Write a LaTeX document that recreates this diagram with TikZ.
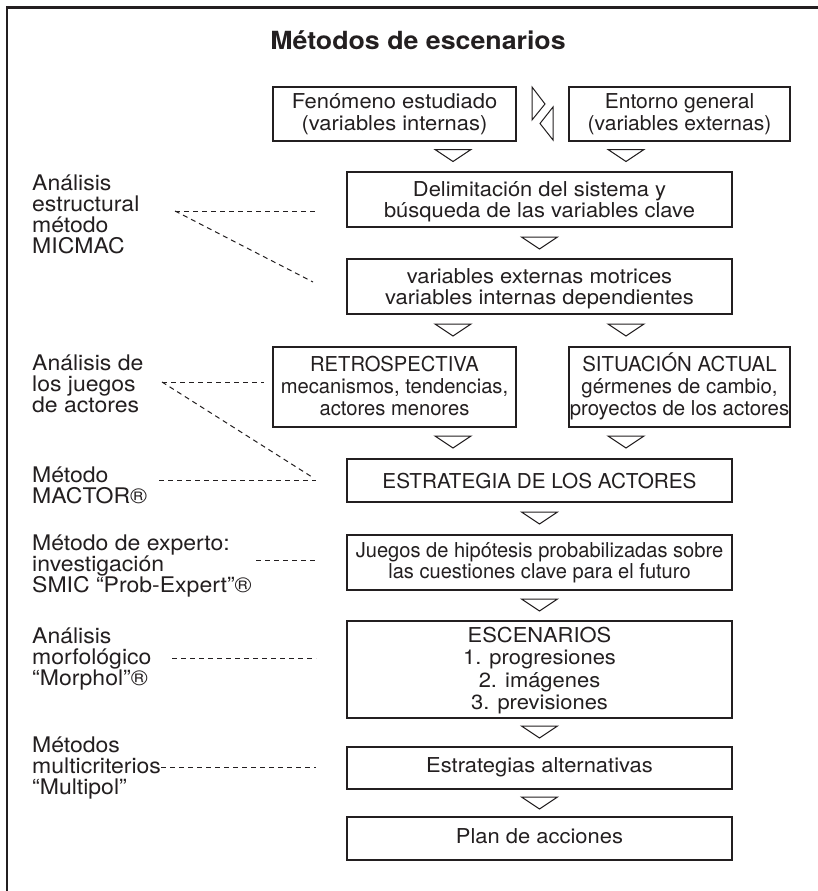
\documentclass[tikz,border=0pt]{standalone}
\usepackage{fontspec}
\usepackage{graphicx}
\setmainfont{TeX Gyre Heros}[FakeStretch=1.07]
\definecolor{ink}{RGB}{35,31,32}
\newcommand\boxfont{\fontsize{20.5}{21.5}\selectfont}
\newcommand\labfont{\fontsize{21.5}{21}\selectfont}
\newcommand\ttlfont{\fontsize{25}{30}\selectfont\bfseries}
\newcommand\cstk[1]{\vtop{\lineskiplimit=-\maxdimen\halign{\hfil##\hfil\cr#1\crcr}}}
\newcommand\lstk[1]{\vtop{\lineskiplimit=-\maxdimen\halign{##\hfil\cr#1\crcr}}}
\newcommand\sq[2]{\scalebox{#1}[1]{#2}}
\newcommand\dtri[2]{\draw[tri] (#1-18,#2) -- (#1+18,#2) -- (#1,#2+12) -- cycle;}
\begin{document}
\begin{tikzpicture}[x=1pt,y=-1pt,
  bx/.style={draw=ink, line width=1.2pt, inner sep=0pt, outer sep=0pt},
  tx/.style={inner sep=0pt, text=ink, font=\boxfont, anchor=base},
  lb/.style={inner sep=0pt, text=ink, font=\labfont, anchor=base west},
  tri/.style={draw=ink, line width=1pt, line join=miter},
  dsh/.style={draw=ink, line width=1pt, dash pattern=on 5pt off 4pt}]
\useasboundingbox (0,0) rectangle (818,891);
\fill[white] (0,0) rectangle (818,891);
\draw[ink, line width=2.7pt] (7,891) -- (7,7.5) -- (818,7.5);

\node[tx, font=\ttlfont] (title) at (418,50) {Métodos de escenarios};

% boxes
\node[bx, minimum width=243pt, minimum height=54pt] (b1) at (394.5,114) {};
\node[bx, minimum width=221pt, minimum height=54pt] (b2) at (679.5,114) {};
\node[bx, minimum width=385pt, minimum height=55pt] (b3) at (539.5,199.5) {};
\node[bx, minimum width=385pt, minimum height=55pt] (b4) at (539.5,286.5) {};
\node[bx, minimum width=243pt, minimum height=80pt] (b5) at (394.5,387) {};
\node[bx, minimum width=221pt, minimum height=80pt] (b6) at (679.5,387) {};
\node[bx, minimum width=385pt, minimum height=43pt] (b7) at (539.5,480.5) {};
\node[bx, minimum width=385pt, minimum height=55pt] (b8) at (539.5,562.5) {};
\node[bx, minimum width=385pt, minimum height=97pt] (b9) at (539.5,669.5) {};
\node[bx, minimum width=385pt, minimum height=42pt] (b10) at (539.5,768) {};
\node[bx, minimum width=385pt, minimum height=43pt] (b11) at (539.5,838.5) {};

% box texts
\node[tx, font={\fontsize{20.5}{22}\selectfont}] (t1) at (394.5,108) {\cstk{Fenómeno estudiado\cr (variables internas)}};
\node[tx, font={\fontsize{20.5}{22}\selectfont}] (t2) at (679.5,108) {\sq{0.96}{\cstk{Entorno general\cr (variables externas)}}};
\node[tx] (t3) at (539.5,196) {\cstk{Delimitación del sistema y\cr búsqueda de las variables clave}};
\node[tx] (t4) at (539.5,283) {\cstk{variables externas motrices\cr variables internas dependientes}};
\node[tx, font={\fontsize{20.5}{22}\selectfont}] (t5) at (394.5,371.5) {\sq{0.92}{\cstk{RETROSPECTIVA\cr mecanismos, tendencias,\cr actores menores}}};
\node[tx, font={\fontsize{20.5}{22}\selectfont}] (t6) at (679.5,371.5) {\sq{0.93}{\cstk{SITUACIÓN ACTUAL\cr gérmenes de cambio,\cr proyectos de los actores}}};
\node[tx] (t7) at (539.5,488) {\sq{0.945}{ESTRATEGIA DE LOS ACTORES}};
\node[tx] (t8) at (539.5,557) {\sq{0.915}{\cstk{Juegos de hipótesis probabilizadas sobre\cr las cuestiones clave para el futuro}}};
\node[tx, font={\fontsize{20.5}{22.5}\selectfont}] (t9) at (539.5,642) {\cstk{ESCENARIOS\cr 1. progresiones\cr 2. imágenes\cr 3. previsiones}};
\node[tx] (t10) at (539.5,772) {Estrategias alternativas};
\node[tx] (t11) at (539.5,843) {Plan de acciones};

% side triangles
\draw[tri] (532,87) -- (545,104) -- (532,120) -- cycle;
\draw[tri] (553,107) -- (540,123.5) -- (553,140) -- cycle;

% down triangles
\dtri{453}{149.5}
\dtri{626}{149.5}
\dtri{539.5}{237}
\dtri{453}{324}
\dtri{626}{324}
\dtri{453}{436}
\dtri{626}{436}
\dtri{539.5}{512}
\dtri{539.5}{599}
\dtri{539.5}{726}
\dtri{539.5}{797}

% labels
\node[lb] (l1) at (32,190) {\lstk{Análisis\cr estructural\cr método\cr MICMAC}};
\node[lb] (l2) at (32,370) {\lstk{Análisis de\cr los juegos\cr de actores}};
\node[lb] (l3) at (32,482.5) {\lstk{Método\cr MACTOR®}};
\node[lb] (l4) at (32,550) {\lstk{Método de experto:\cr investigación\cr SMIC “Prob-Expert”®}};
\node[lb] (l5) at (32,643) {\lstk{Análisis\cr morfológico\cr “Morphol”®}};
\node[lb] (l6) at (32,752) {\lstk{Métodos\cr multicriterios\cr “Multipol”}};

% dashed connectors
\coordinate (m1) at (175,211); \coordinate (m1a) at (316,211); \coordinate (m1b) at (313,282);
\coordinate (m2) at (162,382); \coordinate (m2a) at (264,382); \coordinate (m2b) at (312,477);
\coordinate (m3) at (159,480); \coordinate (m3a) at (316,480);
\coordinate (m4) at (256,560); \coordinate (m4a) at (316,560);
\coordinate (m5) at (172,658); \coordinate (m5a) at (316,658);
\coordinate (m6) at (161,767); \coordinate (m6a) at (316,767);
\draw[dsh] (m1) -- (m1a);
\draw[dsh] (m1) -- (m1b);
\draw[dsh] (m2) -- (m2a);
\draw[dsh] (m2) -- (m2b);
\draw[dsh] (m3) -- (m3a);
\draw[dsh] (m4) -- (m4a);
\draw[dsh] (m5) -- (m5a);
\draw[dsh] (m6) -- (m6a);
\end{tikzpicture}
\end{document}
